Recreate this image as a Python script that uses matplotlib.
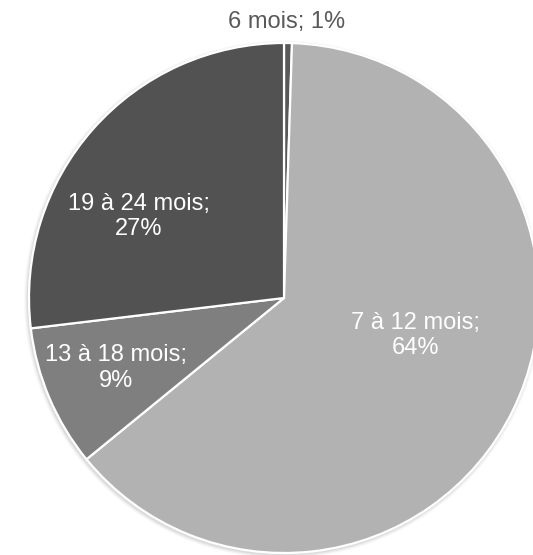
import matplotlib.pyplot as plt
from matplotlib.patches import Circle

# durée -> share of the pie (angles)
categories = ["6 mois", "7 à 12 mois", "13 à 18 mois", "19 à 24 mois"]
shares = [0.5, 63.6, 9.0, 26.9]
pct_labels = ["1%", "64%", "9%", "27%"]
colors = ["#595959", "#b2b2b2", "#7f7f7f", "#525252"]

# label anchors in pie-radius units (centre = 0,0)
label_pos = [(0.012, 1.083), (0.515, -0.148), (-0.66, -0.275), (-0.57, 0.32)]

W, H, dpi = 533, 555, 100
cx, cy, r = 284, 298, 255

fig = plt.figure(figsize=(W / dpi, H / dpi), dpi=dpi)
ax = fig.add_axes([0, 0, 1, 1])

# soft shadow round the disc
for i, a in enumerate([0.05, 0.04, 0.03, 0.02]):
    ax.add_patch(Circle((-0.004, -0.006), 1 + (i + 1) * 0.004, color="k", alpha=a, lw=0, zorder=0))

wedges, _ = ax.pie(shares, colors=colors, startangle=90, counterclock=False, radius=1,
                   wedgeprops=dict(edgecolor="white", linewidth=1.6))
for w in wedges:
    w.set_zorder(2)

for i, (cat, pct) in enumerate(zip(categories, pct_labels)):
    x, y = label_pos[i]
    if i == 0:
        ax.text(x, y, f"{cat}; {pct}", ha="center", va="center", fontsize=17,
                color="#595959", family="Liberation Sans", zorder=3)
    else:
        ax.text(x, y, f"{cat};\n{pct}", ha="center", va="center", fontsize=17,
                color="white", family="Liberation Sans", linespacing=1.2, zorder=3)

# pie() resets the limits, so set them afterwards
ax.set_xlim(-cx / r, (W - cx) / r)
ax.set_ylim(-(H - cy) / r, cy / r)
ax.set_aspect("equal", adjustable="datalim")
ax.axis("off")

fig.savefig("out.png", dpi=dpi)
